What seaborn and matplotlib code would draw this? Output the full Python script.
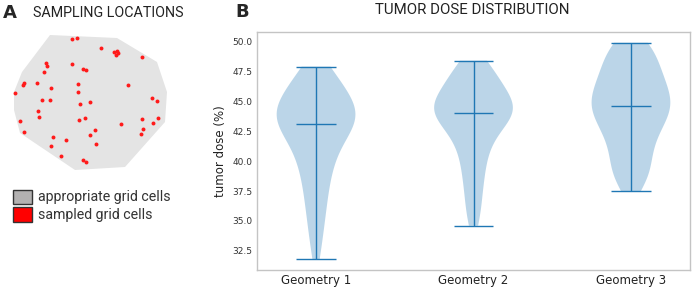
import numpy as np
import pandas as pd
import seaborn as sns
import matplotlib.pyplot as plt
from matplotlib.patches import Rectangle

# tumor dose samples per geometry
geom1 = [31.8, 32.9, 33.8, 34.5, 35.1, 35.7, 36.2, 36.7, 37.2, 37.6, 38.0, 38.4, 38.8,
         39.2, 39.5, 39.8, 40.0,
         40.3, 40.6, 40.9, 41.2, 41.4, 41.6, 41.8, 41.95,
         42.1, 42.3, 42.45, 42.6, 42.75, 42.9, 43.0,
         43.2, 43.3, 43.4, 43.5, 43.6, 43.65, 43.8, 43.95, 44.05, 44.2, 44.3, 44.35,
         44.5, 44.65, 44.8, 44.95, 45.0, 45.1, 45.3, 45.5, 45.7, 45.8, 45.9, 46.1,
         46.35, 46.6, 46.85, 47.1, 47.35, 47.6, 47.8, 47.9]
geom2 = [34.6, 35.4, 36.1, 36.8, 37.4, 38.0, 38.5, 39.0, 39.5, 39.9,
         40.3, 40.7, 41.1, 41.4, 41.7, 42.0, 42.25, 42.5, 42.7, 42.9,
         43.1, 43.25, 43.4, 43.55, 43.7, 43.85, 43.95, 44.0,
         44.1, 44.2, 44.3, 44.4, 44.5, 44.6, 44.7, 44.8, 44.95, 45.1, 45.25, 45.4,
         45.55, 45.7, 45.85, 46.0, 46.2, 46.4, 46.6, 46.8, 47.0, 47.25, 47.5, 47.75,
         48.0, 48.2, 48.4]
geom3 = [37.5, 38.1, 38.45, 38.8, 39.15, 39.5, 39.85, 40.2, 40.55, 40.9, 41.25, 41.6,
         41.95, 42.2, 42.45, 42.7, 42.95, 43.15, 43.35, 43.55, 43.75, 43.95,
         44.15, 44.35, 44.5, 44.6,
         44.75, 44.9, 45.05, 45.2, 45.4, 45.6, 45.8, 46.0, 46.2, 46.4, 46.6, 46.8,
         47.0, 47.2, 47.45, 47.7, 47.95, 48.2, 48.5, 48.8, 49.1, 49.4, 49.65, 49.8, 49.9]
geom_names = ["Geometry 1", "Geometry 2", "Geometry 3"]

# sampling map (pixel coordinates of the left panel)
area_x = [50, 117, 157, 167, 165, 125, 75, 20, 14, 14, 22]
area_y = [35, 38, 62, 92, 122, 167, 170, 133, 110, 92, 72]
sample_x = [71.7, 77.3, 101, 114.3, 116.7, 118.3, 116, 142.3, 46, 47, 72.3, 83, 85.7,
            44.3, 24.3, 23.3, 36.7, 78, 127.7, 51.3, 15, 77.7, 41.7, 49.7, 152,
            156.7, 89.7, 80, 38.3, 39.3, 20.3, 79, 85, 142.3, 158.3, 153, 121.3,
            24.3, 95.3, 142.7, 141.3, 90, 53.3, 65.7, 96, 51, 60.7, 83, 85.7]
sample_y = [39.3, 37.7, 48.3, 51.7, 50.7, 52.7, 55, 56.7, 62.7, 65.7, 64, 68.7, 70,
            72.3, 83.3, 85, 83, 84.3, 85, 88, 93, 91.7, 100, 100, 98.3,
            101.3, 102.3, 104.3, 111, 117.3, 120.7, 119.7, 118, 118.7, 118.3, 123.3, 123.7,
            131.7, 130.3, 129.3, 134.3, 135, 137, 140, 144.3, 146.3, 155.7, 160, 161.7]

sns.set_style("white")
narrow = ["Roboto", "DejaVu Sans"]

fig = plt.figure(figsize=(6.92, 2.88), dpi=100)

# ---- panel A
axA = fig.add_axes([0, 0, 200 / 692, 1])
axA.fill(area_x, area_y, color="#e4e4e4", lw=0)
sns.scatterplot(x=sample_x, y=sample_y, ax=axA, color="#ff1a1a", s=8,
                linewidth=0, marker="o")
axA.add_patch(Rectangle((13, 189.5), 19, 14.5, facecolor="#b3b1b1", edgecolor="#333333", lw=1))
axA.add_patch(Rectangle((13, 207), 19, 15, facecolor="#ff0000", edgecolor="#333333", lw=1))
axA.text(38, 197, "appropriate grid cells", fontsize=10.2, family=narrow,
         va="center", color="#333333")
axA.text(38, 214.5, "sampled grid cells", fontsize=10.2, family=narrow,
         va="center", color="#333333")
axA.set_xlim(0, 200)
axA.set_ylim(288, 0)
axA.axis("off")

fig.text(3 / 692, 1 - 12.5 / 288, "A", fontsize=13, fontweight="bold",
         va="center", ha="left")
fig.text(33 / 692, 1 - 13 / 288, "SAMPLING LOCATIONS", fontsize=10.3, family=narrow,
         va="center", ha="left", color="#222222")
fig.text(235 / 692, 1 - 12 / 288, "B", fontsize=13, fontweight="bold",
         va="center", ha="left")
fig.text(472 / 692, 1 - 10 / 288, "TUMOR DOSE DISTRIBUTION", fontsize=10.8, family=narrow,
         va="center", ha="center", color="#222222")

# ---- panel B
df = pd.DataFrame({
    "geometry": np.repeat(geom_names, [len(geom1), len(geom2), len(geom3)]),
    "dose": geom1 + geom2 + geom3,
})
axB = fig.add_axes([257 / 692, 18 / 288, 433 / 692, 238 / 288])
sns.violinplot(data=df, x="geometry", y="dose", ax=axB, cut=0, inner=None,
               density_norm="width", width=0.5, color="#1f77b4", saturation=1,
               linewidth=0, bw_adjust=0.85)
for coll in axB.collections:
    coll.set_alpha(0.3)
    coll.set_edgecolor("none")

for i, vals in enumerate([geom1, geom2, geom3]):
    lo, hi, med = min(vals), max(vals), np.median(vals)
    axB.vlines(i, lo, hi, color="#1f77b4", lw=1)
    axB.hlines([lo, hi, med], i - 0.125, i + 0.125, color="#1f77b4", lw=1)

axB.set_xlim(-0.375, 2.375)
axB.set_ylim(30.9, 50.8)
axB.set_yticks(np.arange(32.5, 50.1, 2.5))
axB.set_yticklabels([f"{v:.1f}" for v in np.arange(32.5, 50.1, 2.5)])
axB.set_xlabel("")
axB.set_ylabel("tumor dose (%)", fontsize=8.5, color="#222222")
axB.yaxis.set_label_coords(-0.07, 0.5)
axB.tick_params(axis="y", labelsize=6.5, colors="#333333", length=2, width=0.6, pad=1.5)
axB.tick_params(axis="x", labelsize=8.5, colors="#222222", length=2, width=0.6, pad=1)
for sp in axB.spines.values():
    sp.set_color("#c4c4c4")
    sp.set_linewidth(1)

fig.savefig("out.png", dpi=100)
